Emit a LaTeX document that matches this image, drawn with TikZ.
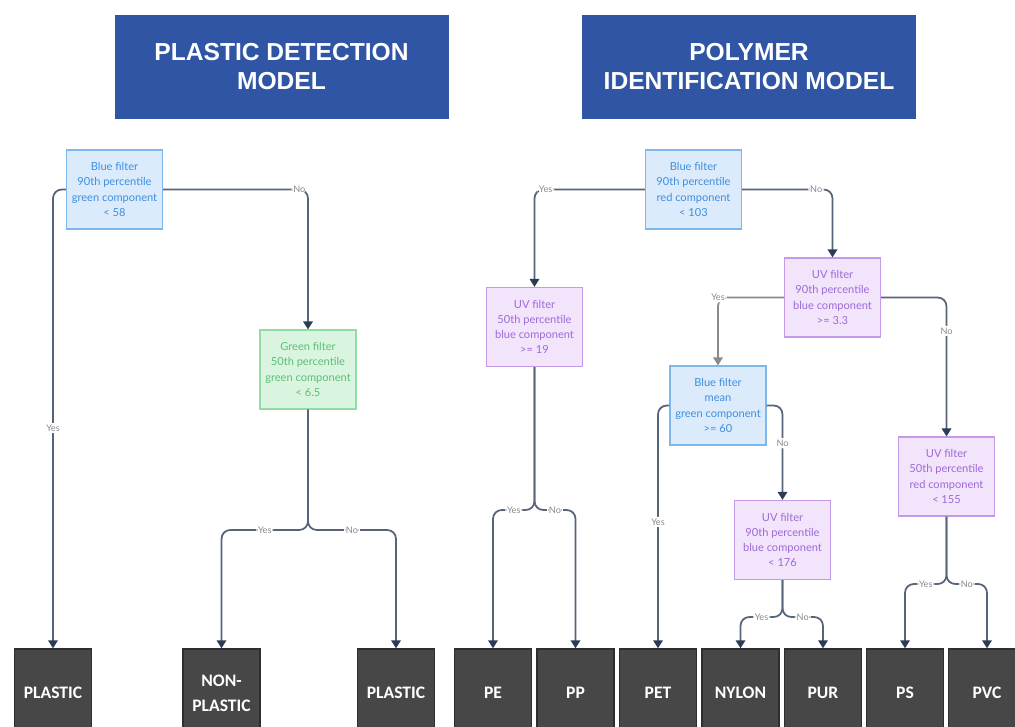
\documentclass[tikz,border=0pt]{standalone}
\usepackage{fontspec}
\setmainfont{Lato}
\newfontfamily\leaffont{Carlito}
\newfontfamily\titlefont{Liberation Sans}
\usetikzlibrary{arrows.meta,positioning,calc}
\definecolor{Title}{HTML}{2F55A4}
\definecolor{BlueFill}{HTML}{DCEBFB}
\definecolor{BlueLine}{HTML}{7DB7EE}
\definecolor{BlueText}{HTML}{3D8FE0}
\definecolor{GreenFill}{HTML}{DAF5DF}
\definecolor{GreenLine}{HTML}{91DBA5}
\definecolor{GreenText}{HTML}{5DBE77}
\definecolor{PurpFill}{HTML}{F1E4FB}
\definecolor{PurpLine}{HTML}{C29AE8}
\definecolor{PurpText}{HTML}{9E6AD8}
\definecolor{LeafFill}{HTML}{474747}
\definecolor{LeafLine}{HTML}{2E2E2E}
\definecolor{Edge}{HTML}{56657A}
\definecolor{Head}{HTML}{2B3D55}
\definecolor{Lbl}{HTML}{8A8A8A}

\begin{document}
\begin{tikzpicture}[x=0.02cm,y=-0.02cm,
 title/.style={fill=Title,draw=Title,text=white,minimum width=6.66cm,minimum height=2.06cm,
   align=center,font=\titlefont\bfseries\fontsize{14}{17}\selectfont},
 test/.style={line width=0.7pt,minimum width=1.92cm,minimum height=1.58cm,inner sep=1pt,
   align=center,font=\fontsize{6.3}{8.6}\selectfont},
 bluebox/.style={test,fill=BlueFill,draw=BlueLine,text=BlueText},
 greenbox/.style={test,fill=GreenFill,draw=GreenLine,text=GreenText},
 purpbox/.style={test,fill=PurpFill,draw=PurpLine,text=PurpText},
 leaf/.style={fill=LeafFill,draw=LeafLine,line width=0.8pt,minimum width=1.54cm,minimum height=1.76cm,
   text=white,align=center,font=\leaffont\bfseries\fontsize{10}{14}\selectfont},
 arr/.style={-{Triangle[length=1.6mm,width=1.9mm,color=Head]},line width=1pt,Edge,rounded corners=5pt},
 grayarr/.style={arr,draw=Lbl,-{Triangle[length=1.6mm,width=1.9mm,color=Lbl]}},
 lbl/.style={fill=white,text=Lbl,font=\fontsize{5.2}{6}\selectfont,inner sep=1pt}]
 \clip (0,0) rectangle (1015,727);
 \fill[white] (0,0) rectangle (1015,727);
 % titles
 \node[title] (t1) at (281.5,66.5) {PLASTIC DETECTION\\MODEL};
 \node[title] (t2) at (749,66.5) {POLYMER\\IDENTIFICATION MODEL};
 % plastic detection tree
 \node[bluebox] (d1) at (114.5,189.5) {Blue filter\\90th percentile\\green component\\< 58};
 \node[greenbox] (g1) at (308,369.5) {Green filter\\50th percentile\\green component\\< 6.5};
 % polymer tree
 \node[bluebox] (r1) at (693.5,189.5) {Blue filter\\90th percentile\\red component\\< 103};
 \node[purpbox] (uv1) at (534.5,327) {UV filter\\50th percentile\\blue component\\>= 19};
 \node[purpbox] (uv2) at (832.5,297.5) {UV filter\\90th percentile\\blue component\\>= 3.3};
 \node[bluebox] (b2) at (718,405.5) {Blue filter\\mean\\green component\\>= 60};
 \node[purpbox] (uv3) at (782.5,540) {UV filter\\90th percentile\\blue component\\< 176};
 \node[purpbox] (uv4) at (946.5,476.5) {UV filter\\50th percentile\\red component\\< 155};
 % leaves
 \node[leaf] (pl1) at (53,693) {PLASTIC};
 \node[leaf] (np) at (221.5,693) {NON-\\PLASTIC};
 \node[leaf] (pl2) at (396,693) {PLASTIC};
 \node[leaf] (pe) at (493,693) {PE};
 \node[leaf] (pp) at (575.5,693) {PP};
 \node[leaf] (pet) at (658,693) {PET};
 \node[leaf] (nyl) at (740.5,693) {NYLON};
 \node[leaf] (pur) at (823,693) {PUR};
 \node[leaf] (ps) at (905,693) {PS};
 \node[leaf] (pvc) at (987,693) {PVC};
 % split points
 \coordinate (j1) at (308,530);
 \coordinate (j2) at (534.5,510);
 \coordinate (j3) at (782.5,617);
 \coordinate (j4) at (946.5,584);
 % connectors
 \draw[arr] (d1.west) -| node[lbl,pos=.76] {Yes} (pl1.north);
 \draw[arr] (d1.east) -| node[lbl,pos=.47] {No} (g1.north);
 \draw[arr] (g1.south) -- (j1) -| node[lbl,pos=.25] {Yes} (np.north);
 \draw[arr] (g1.south) -- (j1) -| node[lbl,pos=.25] {No} (pl2.north);
 \draw[arr] (r1.west) -| node[lbl,pos=.45] {Yes} (uv1.north);
 \draw[arr] (r1.east) -| node[lbl,pos=.41] {No} (uv2.north);
 \draw[arr] (uv1.south) -- (j2) -| node[lbl,pos=.25] {Yes} (pe.north);
 \draw[arr] (uv1.south) -- (j2) -| node[lbl,pos=.25] {No} (pp.north);
 \draw[grayarr] (uv2.west) -| node[lbl,pos=.5] {Yes} (b2.north);
 \draw[arr] (uv2.east) -| node[lbl,pos=.62] {No} (uv4.north);
 \draw[arr] (b2.west) -| node[lbl,pos=.74] {Yes} (pet.north);
 \draw[arr] (b2.east) -| node[lbl,pos=.7] {No} (uv3.north);
 \draw[arr] (uv3.south) -- (j3) -| node[lbl,pos=.25] {Yes} (nyl.north);
 \draw[arr] (uv3.south) -- (j3) -| node[lbl,pos=.25] {No} (pur.north);
 \draw[arr] (uv4.south) -- (j4) -| node[lbl,pos=.25] {Yes} (ps.north);
 \draw[arr] (uv4.south) -- (j4) -| node[lbl,pos=.25] {No} (pvc.north);
\end{tikzpicture}
\end{document}
